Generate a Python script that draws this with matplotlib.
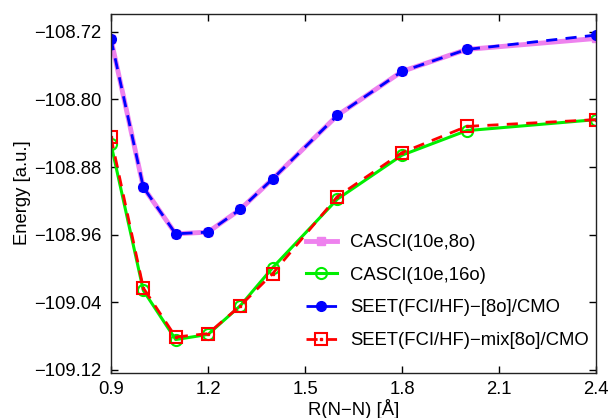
import matplotlib
matplotlib.use("Agg")
import matplotlib.pyplot as plt
from matplotlib.legend_handler import HandlerTuple

plt.rcParams['font.family'] = ['Liberation Sans', 'DejaVu Sans']

R = [0.9, 1.0, 1.1, 1.2, 1.3, 1.4, 1.6, 1.8, 2.0, 2.4]
casci_8o = [-108.729, -108.904, -108.959, -108.957, -108.930, -108.894, -108.819, -108.767, -108.741, -108.728]
casci_16o = [-108.853, -109.026, -109.084, -109.078, -109.044, -108.999, -108.918, -108.866, -108.837, -108.824]
seet_8o = [-108.729, -108.904, -108.959, -108.957, -108.930, -108.894, -108.819, -108.767, -108.741, -108.724]
seet_mix = [-108.845, -109.023, -109.081, -109.077, -109.044, -109.006, -108.915, -108.863, -108.832, -108.824]

xticks = [0.9, 1.2, 1.5, 1.8, 2.1, 2.4]
yticks = [-109.12, -109.04, -108.96, -108.88, -108.80, -108.72]
labels = ['CASCI(10e,8o)', 'CASCI(10e,16o)', 'SEET(FCI/HF)\u2212[8o]/CMO', 'SEET(FCI/HF)\u2212mix[8o]/CMO']

fs = 13.3
fig = plt.figure(figsize=(6.10, 4.18), dpi=100)
ax = fig.add_axes([111/610, 1-372.7/418, (596-111)/610, (372.7-13.5)/418])

l1, = ax.plot(R, casci_8o, color='violet', lw=3.5, marker='s', ms=6, mfc='violet', mec='violet')
l2, = ax.plot(R, casci_16o, color='#00ee00', lw=2.2, marker='o', ms=8, mfc='none', mec='#00ee00', mew=1.5)
l3, = ax.plot(R, seet_8o, color='blue', lw=2.0, ls=(0, (4, 3)), marker='o', ms=7, mfc='blue', mec='blue')
l4, = ax.plot(R, seet_mix, color='red', lw=2.0, ls=(0, (4, 3)), marker='s', ms=8, mfc='none', mec='red', mew=1.5)
l4d, = ax.plot(R, seet_mix, ls='none', marker='s', ms=1.5, mfc='red', mec='red')

ax.set_xlim(0.9, 2.4)
ax.set_ylim(-109.1232, -108.6985)
ax.set_xticks(xticks)
ax.set_xticklabels([f'{t:.1f}' for t in xticks])
ax.set_yticks(yticks)
ax.set_yticklabels([f'\u2212{abs(t):.2f}' for t in yticks])
ax.tick_params(direction='in', top=True, right=True, labelsize=fs, length=5, width=1)
ax.tick_params(axis='x', pad=6)
ax.tick_params(axis='y', pad=7)
for s in ax.spines.values():
    s.set_linewidth(1.0)
    s.set_color('#222222')

ax.set_xlabel('R(N\u2212N) [\u00c5]', fontsize=fs, labelpad=1)
ax.set_ylabel('Energy [a.u.]', fontsize=fs, labelpad=2)

leg = ax.legend([l1, l2, l3, (l4, l4d)], labels, loc='lower right', frameon=False,
                fontsize=fs, handlelength=1.7, handletextpad=0.7, labelspacing=0.85,
                borderaxespad=0.0, bbox_to_anchor=(1.0, 0.045),
                handler_map={tuple: HandlerTuple(ndivide=1)})

fig.savefig('out.png', dpi=100)
